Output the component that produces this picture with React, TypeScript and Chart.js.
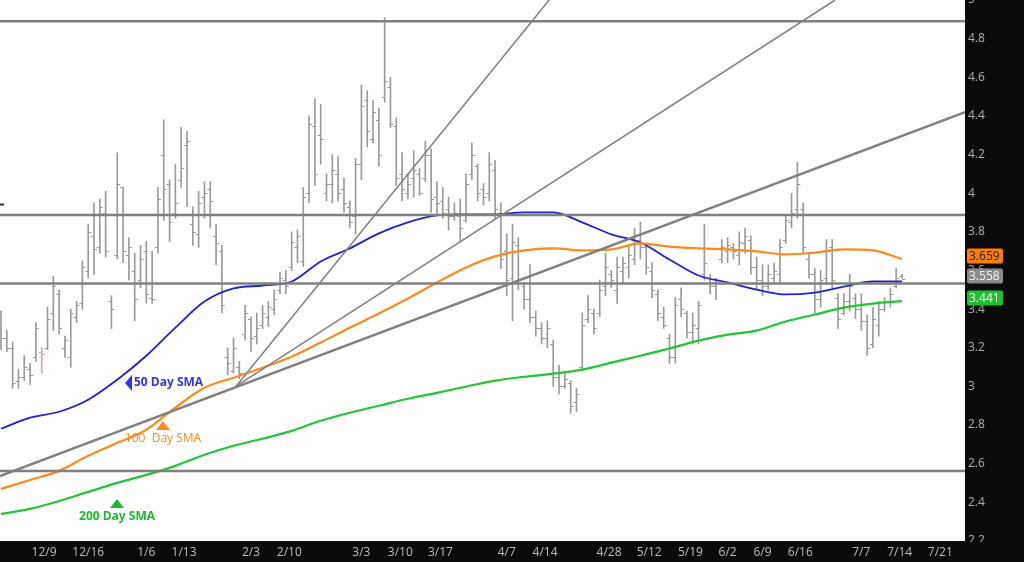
import React, { useEffect, useRef } from "react";
import { Chart, registerables } from "chart.js";

Chart.register(...registerables);

// ---- Daily OHLC bars (trading-day index 0..155) ----
const highs = [
  3.39, 3.29, 3.23, 3.09, 3.16, 3.12, 3.33, 3.20, 3.41, 3.57,
  3.50, 3.26, 3.40, 3.44, 3.65, 3.84, 3.95, 3.97, 4.01, 3.47,
  4.21, 4.03, 3.77, 3.69, 3.73, 3.75, 3.70, 4.03, 4.38, 4.07,
  4.15, 4.34, 4.32, 3.93, 4.01, 4.06, 4.06, 3.84, 3.73, 3.20,
  3.25, 3.13, 3.42, 3.36, 3.38, 3.42, 3.44, 3.50, 3.59, 3.60,
  3.80, 3.81, 4.03, 4.40, 4.49, 4.46, 4.10, 4.20, 4.19, 4.08,
  3.96, 4.18, 4.56, 4.53, 4.48, 4.44, 4.91, 4.60, 4.39, 4.21,
  4.10, 4.22, 4.13, 4.27, 4.23, 4.06, 4.03, 3.98, 3.95, 3.97,
  4.10, 4.26, 4.15, 4.05, 4.21, 4.17, 3.95, 3.79, 3.84, 3.77,
  3.54, 3.63, 3.39, 3.33, 3.34, 3.24, 3.11, 3.08, 3.03, 2.99,
  3.38, 3.47, 3.40, 3.55, 3.69, 3.60, 3.67, 3.67, 3.73, 3.82,
  3.85, 3.74, 3.64, 3.50, 3.41, 3.27, 3.46, 3.51, 3.39, 3.38,
  3.44, 3.84, 3.58, 3.56, 3.76, 3.77, 3.74, 3.80, 3.82, 3.78,
  3.67, 3.63, 3.63, 3.64, 3.76, 3.89, 4.00, 4.16, 3.95, 3.69,
  3.61, 3.60, 3.76, 3.76, 3.48, 3.48, 3.58, 3.48, 3.48, 3.37,
  3.41, 3.44, 3.46, 3.51, 3.61, 3.58,
];
const lows = [
  3.19, 3.18, 2.99, 2.99, 3.03, 3.01, 3.13, 3.07, 3.19, 3.29,
  3.27, 3.15, 3.10, 3.33, 3.40, 3.56, 3.58, 3.69, 3.67, 3.30,
  3.66, 3.64, 3.55, 3.34, 3.51, 3.43, 3.43, 3.69, 3.86, 3.75,
  3.87, 4.03, 3.93, 3.73, 3.72, 3.87, 3.82, 3.63, 3.38, 3.06,
  3.07, 3.04, 3.24, 3.18, 3.22, 3.30, 3.31, 3.37, 3.48, 3.48,
  3.60, 3.64, 3.62, 3.95, 4.04, 4.15, 3.96, 3.95, 3.96, 3.90,
  3.82, 3.79, 4.07, 4.24, 4.26, 4.14, 4.47, 4.34, 4.04, 3.96,
  3.97, 3.98, 3.99, 4.06, 3.90, 3.89, 3.87, 3.81, 3.86, 3.75,
  3.85, 4.07, 3.96, 3.94, 3.96, 3.87, 3.61, 3.47, 3.34, 3.50,
  3.40, 3.33, 3.26, 3.22, 3.20, 3.00, 2.96, 2.99, 2.86, 2.87,
  3.08, 3.33, 3.27, 3.36, 3.47, 3.51, 3.43, 3.53, 3.56, 3.63,
  3.66, 3.58, 3.46, 3.34, 3.30, 3.12, 3.12, 3.36, 3.25, 3.22,
  3.22, 3.55, 3.48, 3.45, 3.64, 3.64, 3.66, 3.63, 3.69, 3.58,
  3.50, 3.47, 3.50, 3.53, 3.53, 3.74, 3.82, 3.87, 3.69, 3.56,
  3.38, 3.41, 3.53, 3.51, 3.30, 3.37, 3.39, 3.35, 3.29, 3.16,
  3.20, 3.26, 3.39, 3.41, 3.51, 3.56,
];
const opens = [
  3.30, 3.25, 3.20, 3.03, 3.05, 3.09, 3.15, 3.18, 3.20, 3.38,
  3.48, 3.20, 3.15, 3.36, 3.43, 3.60, 3.78, 3.72, 3.90, 3.44,
  3.68, 4.03, 3.68, 3.60, 3.55, 3.70, 3.46, 3.72, 4.20, 4.05,
  3.90, 4.07, 4.25, 3.84, 3.79, 3.98, 4.02, 3.78, 3.70, 3.15,
  3.08, 3.10, 3.27, 3.35, 3.26, 3.32, 3.36, 3.40, 3.50, 3.55,
  3.62, 3.72, 3.65, 4.00, 4.35, 4.30, 4.00, 4.05, 4.10, 4.02,
  3.93, 3.88, 4.15, 4.48, 4.28, 4.38, 4.50, 4.55, 4.35, 4.10,
  4.00, 4.08, 4.10, 4.08, 4.20, 3.98, 3.96, 3.92, 3.88, 3.88,
  3.86, 4.10, 4.14, 4.02, 4.00, 4.12, 3.90, 3.70, 3.56, 3.73,
  3.52, 3.45, 3.36, 3.30, 3.25, 3.22, 3.05, 3.00, 3.02, 2.92,
  3.10, 3.35, 3.38, 3.38, 3.52, 3.58, 3.50, 3.60, 3.62, 3.66,
  3.76, 3.72, 3.60, 3.48, 3.36, 3.25, 3.15, 3.45, 3.38, 3.28,
  3.30, 3.58, 3.56, 3.52, 3.66, 3.70, 3.72, 3.68, 3.74, 3.76,
  3.62, 3.55, 3.52, 3.56, 3.58, 3.76, 3.85, 3.92, 3.92, 3.66,
  3.58, 3.45, 3.56, 3.72, 3.46, 3.38, 3.44, 3.46, 3.40, 3.34,
  3.22, 3.32, 3.40, 3.44, 3.52, 3.57,
];
const closes = [
  3.25, 3.20, 3.02, 3.05, 3.10, 3.06, 3.30, 3.17, 3.35, 3.52,
  3.30, 3.24, 3.38, 3.42, 3.62, 3.80, 3.71, 3.93, 3.70, 3.40,
  4.05, 3.70, 3.72, 3.45, 3.66, 3.48, 3.45, 3.97, 4.02, 3.85,
  3.95, 4.13, 4.27, 3.80, 3.95, 4.00, 3.96, 3.74, 3.42, 3.12,
  3.20, 3.07, 3.38, 3.25, 3.30, 3.38, 3.41, 3.45, 3.56, 3.52,
  3.75, 3.78, 3.98, 4.36, 4.10, 4.28, 4.05, 4.12, 4.00, 3.95,
  3.85, 4.15, 4.45, 4.32, 4.42, 4.20, 4.58, 4.36, 4.08, 4.02,
  4.05, 4.12, 4.00, 4.20, 3.97, 3.95, 3.90, 3.88, 3.90, 3.82,
  4.05, 4.20, 4.00, 3.98, 4.15, 3.92, 3.66, 3.55, 3.75, 3.55,
  3.45, 3.36, 3.30, 3.25, 3.30, 3.05, 3.00, 3.04, 2.90, 2.96,
  3.32, 3.40, 3.30, 3.50, 3.62, 3.55, 3.62, 3.64, 3.68, 3.78,
  3.72, 3.62, 3.50, 3.38, 3.32, 3.15, 3.42, 3.40, 3.28, 3.32,
  3.42, 3.64, 3.52, 3.54, 3.72, 3.73, 3.70, 3.75, 3.78, 3.62,
  3.55, 3.52, 3.58, 3.60, 3.72, 3.86, 3.90, 4.05, 3.72, 3.58,
  3.45, 3.55, 3.70, 3.55, 3.35, 3.44, 3.52, 3.40, 3.34, 3.20,
  3.35, 3.40, 3.44, 3.48, 3.56, 3.558,
];

// ---- Moving averages, read every 5 trading days ----
const smaIndex = [
  0, 5, 10, 15, 20, 25, 30, 35, 40, 45, 50, 55, 60, 65, 70, 75,
  80, 85, 90, 95, 100, 105, 110, 115, 120, 125, 130, 135, 140, 145, 150, 155,
];
const sma50 = [
  2.781, 2.838, 2.869, 2.931, 3.035, 3.159, 3.304, 3.439, 3.507, 3.522, 3.543, 3.647, 3.714, 3.792, 3.849, 3.885,
  3.890, 3.890, 3.901, 3.901, 3.849, 3.787, 3.745, 3.657, 3.574, 3.538, 3.501, 3.476, 3.486, 3.517, 3.543, 3.543,
];
const sma100 = [
  2.470, 2.516, 2.563, 2.641, 2.708, 2.776, 2.890, 2.993, 3.045, 3.097, 3.154, 3.227, 3.304, 3.377, 3.455, 3.538,
  3.616, 3.673, 3.704, 3.714, 3.704, 3.709, 3.740, 3.724, 3.714, 3.709, 3.699, 3.683, 3.693, 3.709, 3.704, 3.659,
];
const sma200 = [
  2.340, 2.366, 2.407, 2.454, 2.501, 2.542, 2.589, 2.646, 2.693, 2.729, 2.770, 2.822, 2.864, 2.900, 2.936, 2.967,
  2.999, 3.030, 3.050, 3.066, 3.087, 3.123, 3.159, 3.196, 3.237, 3.268, 3.289, 3.336, 3.372, 3.408, 3.429, 3.441,
];

// ---- Horizontal support / resistance levels ----
const levels = [4.89, 3.887, 3.533, 2.562];

// ---- Trend lines: [startIndex, startValue, endIndex, endValue] ----
const trendSteep = [40.4, 3.0, 94.3, 5.0];
const trendMid = [40.4, 3.0, 143.5, 5.0];
const trendLong = [-0.172, 2.536, 165.84, 4.42];

// ---- Marker at the left edge ----
const leftMarkValue = 3.944;

// ---- X axis ----
const xMin = -0.172;
const xMax = 165.84;
const tickIdx = [7.4, 15, 25, 31.5, 43, 49.6, 62, 68.7, 75.6, 87, 93.6, 104.6, 111.5, 118.6, 125, 131, 137.5, 148, 154.6, 161.6];
const tickLabels = ["12/9", "12/16", "1/6", "1/13", "2/3", "2/10", "3/3", "3/10", "3/17", "4/7", "4/14", "4/28", "5/12", "5/19", "6/2", "6/9", "6/16", "7/7", "7/14", "7/21"];

// ---- Last values shown as tags on the price axis ----
const lastSma100 = 3.659;
const lastClose = 3.558;
const lastSma200 = 3.441;

const FONT = "'Open Sans', 'Noto Sans', 'DejaVu Sans', sans-serif";
const BLUE = "#2020d4";
const ORANGE = "#ff8a1c";
const GREEN = "#22c43a";
const GRAY_LINE = "#808080";
const BAR_GRAY = "#9a9a9a";

export default function App() {
  const ref = useRef<HTMLCanvasElement>(null);

  useEffect(() => {
    const canvas = ref.current;
    if (!canvas) return;

    const barData = highs.map((h, i) => ({ x: i, y: [lows[i], h] }));
    const toPts = (vals: number[]) => smaIndex.map((x, k) => ({ x, y: vals[k] }));
    const seg = (t: number[]) => [
      { x: t[0], y: t[1] },
      { x: t[2], y: t[3] },
    ];

    const whiteArea = {
      id: "whiteArea",
      beforeDraw(chart: any) {
        const { ctx, chartArea: a } = chart;
        ctx.save();
        ctx.fillStyle = "#0b0b0b";
        ctx.fillRect(0, 0, chart.width, chart.height);
        ctx.fillStyle = "#ffffff";
        ctx.fillRect(a.left, a.top, a.right - a.left, a.bottom - a.top);
        ctx.restore();
      },
    };

    const ohlcTicks = {
      id: "ohlcTicks",
      afterDatasetDraw(chart: any, args: any) {
        if (args.index !== 0) return;
        const { ctx, chartArea: a } = chart;
        const xs = chart.scales.x;
        const ys = chart.scales.y;
        ctx.save();
        ctx.beginPath();
        ctx.rect(a.left, a.top, a.right - a.left, a.bottom - a.top);
        ctx.clip();
        ctx.lineWidth = 1;
        highs.forEach((_, i) => {
          const px = xs.getPixelForValue(i);
          const yo = Math.round(ys.getPixelForValue(opens[i])) + 0.5;
          const yc = Math.round(ys.getPixelForValue(closes[i])) + 0.5;
          ctx.strokeStyle = i === 7 ? "#d9a0c0" : BAR_GRAY;
          ctx.beginPath();
          ctx.moveTo(px - 3, yo);
          ctx.lineTo(px, yo);
          ctx.moveTo(px, yc);
          ctx.lineTo(px + 3, yc);
          ctx.stroke();
        });
        // small marker at the left edge
        const my = Math.round(ys.getPixelForValue(leftMarkValue)) + 0.5;
        ctx.strokeStyle = "#333333";
        ctx.lineWidth = 2;
        ctx.beginPath();
        ctx.moveTo(a.left, my);
        ctx.lineTo(a.left + 4, my);
        ctx.stroke();
        ctx.restore();
      },
    };

    const smaLabels = {
      id: "smaLabels",
      afterDatasetsDraw(chart: any) {
        const { ctx } = chart;
        const xs = chart.scales.x;
        const ys = chart.scales.y;
        ctx.save();
        ctx.textBaseline = "middle";
        // 50 Day SMA
        let px = xs.getPixelForValue(21.33);
        let py = ys.getPixelForValue(3.018);
        ctx.fillStyle = "#3434e0";
        ctx.beginPath();
        ctx.moveTo(px, py);
        ctx.lineTo(px + 7, py - 8);
        ctx.lineTo(px + 7, py + 8);
        ctx.closePath();
        ctx.fill();
        ctx.font = `bold 12px ${FONT}`;
        ctx.textAlign = "left";
        ctx.fillText("50 Day SMA", px + 9, py);
        // 100 Day SMA
        px = xs.getPixelForValue(27.87);
        py = ys.getPixelForValue(2.821);
        ctx.fillStyle = ORANGE;
        ctx.beginPath();
        ctx.moveTo(px, py);
        ctx.lineTo(px + 7, py + 9);
        ctx.lineTo(px - 7, py + 9);
        ctx.closePath();
        ctx.fill();
        ctx.font = `12px ${FONT}`;
        ctx.textAlign = "center";
        ctx.fillText("100  Day SMA", px, py + 18);
        // 200 Day SMA
        px = xs.getPixelForValue(19.96);
        py = ys.getPixelForValue(2.417);
        ctx.fillStyle = "#1fb830";
        ctx.beginPath();
        ctx.moveTo(px, py);
        ctx.lineTo(px + 7, py + 9);
        ctx.lineTo(px - 7, py + 9);
        ctx.closePath();
        ctx.fill();
        ctx.font = `bold 12px ${FONT}`;
        ctx.textAlign = "center";
        ctx.fillText("200 Day SMA", px, py + 18);
        ctx.restore();
      },
    };

    const valueTags = {
      id: "valueTags",
      afterDraw(chart: any) {
        const { ctx, chartArea: a } = chart;
        const ys = chart.scales.y;
        ctx.save();
        // the price axis labels are cut at the bottom of the plot
        ctx.fillStyle = "#0b0b0b";
        ctx.fillRect(a.right, a.bottom + 1, chart.width - a.right, chart.height - a.bottom);
        const tags: [number, string, string][] = [
          [lastSma100, "#ff8000", "#1a1a1a"],
          [lastClose, "#8a8a8a", "#f4f4f4"],
          [lastSma200, "#1fbf30", "#ffffff"],
        ];
        ctx.font = `12px ${FONT}`;
        ctx.textBaseline = "middle";
        ctx.textAlign = "left";
        tags.forEach(([v, bg, fg]) => {
          const cy = Math.round(ys.getPixelForValue(v)) - 3;
          const x0 = a.right + 2;
          const w = 36;
          const h = 15;
          ctx.fillStyle = bg;
          ctx.beginPath();
          (ctx as any).roundRect(x0, cy - h / 2, w, h, 2);
          ctx.fill();
          ctx.fillStyle = fg;
          ctx.fillText(v.toFixed(3), x0 + 2, cy + 0.5);
        });
        ctx.restore();
      },
    };

    const lineDs = (label: string, data: any[], color: string, width: number, extra: any = {}) => ({
      type: "line" as const,
      label,
      data,
      borderColor: color,
      borderWidth: width,
      pointRadius: 0,
      fill: false,
      order: 1,
      ...extra,
    });

    const chart = new Chart(canvas, {
      type: "line",
      data: {
        datasets: [
          {
            type: "bar" as const,
            label: "Price",
            data: barData as any,
            backgroundColor: (c: any) => (c.dataIndex === 7 ? "#d9a0c0" : BAR_GRAY),
            borderWidth: 0,
            barThickness: 1,
            grouped: false,
            order: 10,
          } as any,
          ...levels.map((lv, k) =>
            lineDs(`level${k}`, [{ x: xMin, y: lv }, { x: xMax, y: lv }], GRAY_LINE, 2.5)
          ),
          lineDs("trendSteep", seg(trendSteep), GRAY_LINE, 1.5),
          lineDs("trendMid", seg(trendMid), GRAY_LINE, 1.5),
          lineDs("trendLong", seg(trendLong), GRAY_LINE, 2.5),
          lineDs("SMA 200", toPts(sma200), GREEN, 2.2, { cubicInterpolationMode: "monotone" }),
          lineDs("SMA 100", toPts(sma100), ORANGE, 2.2, { cubicInterpolationMode: "monotone" }),
          lineDs("SMA 50", toPts(sma50), BLUE, 1.8, { cubicInterpolationMode: "monotone" }),
        ] as any,
      },
      options: {
        responsive: false,
        devicePixelRatio: 1,
        animation: false,
        layout: { padding: 0 },
        plugins: {
          legend: { display: false },
          tooltip: { enabled: false },
        },
        scales: {
          x: {
            type: "linear",
            min: xMin,
            max: xMax,
            offset: false,
            grid: { display: false, drawTicks: false },
            border: { display: false },
            ticks: {
              autoSkip: false,
              maxRotation: 0,
              padding: 4,
              color: "#bdbdbd",
              font: { family: FONT, size: 12 },
              callback: (_v: any, i: number) => tickLabels[i],
            },
            afterBuildTicks: (scale: any) => {
              scale.ticks = tickIdx.map((v) => ({ value: v }));
            },
            afterFit: (scale: any) => {
              scale.height = 21;
              scale.paddingLeft = 0;
              scale.paddingRight = 0;
            },
          },
          y: {
            type: "linear",
            position: "right",
            min: 2.2,
            max: 5.0,
            grid: { display: false, drawTicks: false },
            border: { display: false },
            ticks: {
              stepSize: 0.2,
              padding: 3,
              color: "#b0b0b0",
              font: { family: FONT, size: 12 },
              callback: (v: any) => String(Number(Number(v).toFixed(1))),
            },
            afterFit: (scale: any) => {
              scale.width = 59;
              scale.paddingTop = 0;
              scale.paddingBottom = 0;
            },
          },
        },
      } as any,
      plugins: [whiteArea, ohlcTicks, smaLabels, valueTags],
    });

    return () => chart.destroy();
  }, []);

  return (
    <div style={{ position: "fixed", left: 0, top: 0, width: 1024, height: 562, background: "#0b0b0b" }}>
      <canvas ref={ref} width={1024} height={562} style={{ display: "block", width: 1024, height: 562 }} />
    </div>
  );
}
